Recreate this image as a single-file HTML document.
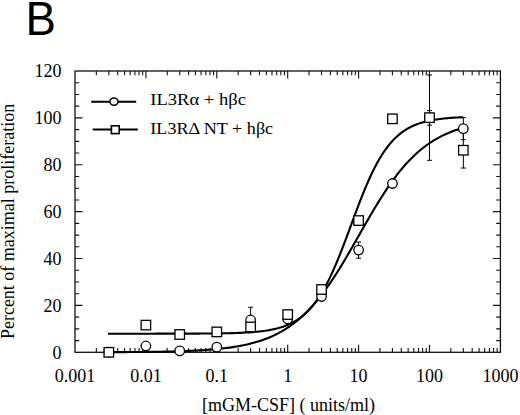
<!DOCTYPE html>
<html><head><meta charset="utf-8"><style>
html,body{margin:0;padding:0;background:#fff;}
body{width:520px;height:415px;overflow:hidden;position:relative;}
svg{position:absolute;left:0;top:0;}
text{font-family:"Liberation Serif",serif;font-size:18px;fill:#000;}
.lg{font-size:17.6px;}
.tt{font-size:18px;}
.B{font-family:"Liberation Sans",sans-serif;font-size:47.5px;}
</style></head><body>
<svg width="520" height="415" viewBox="0 0 520 415">
<text class="B" transform="translate(25.6,34.8) scale(0.96,1)">B</text>
<path d="M96.34 352.30v-4.2M96.34 71.00v4.2M108.83 352.30v-4.2M108.83 71.00v4.2M117.69 352.30v-4.2M117.69 71.00v4.2M124.56 352.30v-4.2M124.56 71.00v4.2M130.17 352.30v-4.2M130.17 71.00v4.2M134.92 352.30v-4.2M134.92 71.00v4.2M139.03 352.30v-4.2M139.03 71.00v4.2M142.66 352.30v-4.2M142.66 71.00v4.2M145.90 352.30v-7.5M145.90 71.00v7.5M167.24 352.30v-4.2M167.24 71.00v4.2M179.73 352.30v-4.2M179.73 71.00v4.2M188.59 352.30v-4.2M188.59 71.00v4.2M195.46 352.30v-4.2M195.46 71.00v4.2M201.07 352.30v-4.2M201.07 71.00v4.2M205.82 352.30v-4.2M205.82 71.00v4.2M209.93 352.30v-4.2M209.93 71.00v4.2M213.56 352.30v-4.2M213.56 71.00v4.2M216.80 352.30v-7.5M216.80 71.00v7.5M238.14 352.30v-4.2M238.14 71.00v4.2M250.63 352.30v-4.2M250.63 71.00v4.2M259.49 352.30v-4.2M259.49 71.00v4.2M266.36 352.30v-4.2M266.36 71.00v4.2M271.97 352.30v-4.2M271.97 71.00v4.2M276.72 352.30v-4.2M276.72 71.00v4.2M280.83 352.30v-4.2M280.83 71.00v4.2M284.46 352.30v-4.2M284.46 71.00v4.2M287.70 352.30v-7.5M287.70 71.00v7.5M309.04 352.30v-4.2M309.04 71.00v4.2M321.53 352.30v-4.2M321.53 71.00v4.2M330.39 352.30v-4.2M330.39 71.00v4.2M337.26 352.30v-4.2M337.26 71.00v4.2M342.87 352.30v-4.2M342.87 71.00v4.2M347.62 352.30v-4.2M347.62 71.00v4.2M351.73 352.30v-4.2M351.73 71.00v4.2M355.36 352.30v-4.2M355.36 71.00v4.2M358.60 352.30v-7.5M358.60 71.00v7.5M379.94 352.30v-4.2M379.94 71.00v4.2M392.43 352.30v-4.2M392.43 71.00v4.2M401.29 352.30v-4.2M401.29 71.00v4.2M408.16 352.30v-4.2M408.16 71.00v4.2M413.77 352.30v-4.2M413.77 71.00v4.2M418.52 352.30v-4.2M418.52 71.00v4.2M422.63 352.30v-4.2M422.63 71.00v4.2M426.26 352.30v-4.2M426.26 71.00v4.2M429.50 352.30v-7.5M429.50 71.00v7.5M450.84 352.30v-4.2M450.84 71.00v4.2M463.33 352.30v-4.2M463.33 71.00v4.2M472.19 352.30v-4.2M472.19 71.00v4.2M479.06 352.30v-4.2M479.06 71.00v4.2M484.67 352.30v-4.2M484.67 71.00v4.2M489.42 352.30v-4.2M489.42 71.00v4.2M493.53 352.30v-4.2M493.53 71.00v4.2M497.16 352.30v-4.2M497.16 71.00v4.2M75.00 340.58h4.2M500.40 340.58h-4.2M75.00 328.86h4.2M500.40 328.86h-4.2M75.00 317.14h4.2M500.40 317.14h-4.2M75.00 305.42h7.5M500.40 305.42h-7.5M75.00 293.70h4.2M500.40 293.70h-4.2M75.00 281.98h4.2M500.40 281.98h-4.2M75.00 270.25h4.2M500.40 270.25h-4.2M75.00 258.53h7.5M500.40 258.53h-7.5M75.00 246.81h4.2M500.40 246.81h-4.2M75.00 235.09h4.2M500.40 235.09h-4.2M75.00 223.37h4.2M500.40 223.37h-4.2M75.00 211.65h7.5M500.40 211.65h-7.5M75.00 199.93h4.2M500.40 199.93h-4.2M75.00 188.21h4.2M500.40 188.21h-4.2M75.00 176.49h4.2M500.40 176.49h-4.2M75.00 164.77h7.5M500.40 164.77h-7.5M75.00 153.05h4.2M500.40 153.05h-4.2M75.00 141.33h4.2M500.40 141.33h-4.2M75.00 129.60h4.2M500.40 129.60h-4.2M75.00 117.88h7.5M500.40 117.88h-7.5M75.00 106.16h4.2M500.40 106.16h-4.2M75.00 94.44h4.2M500.40 94.44h-4.2M75.00 82.72h4.2M500.40 82.72h-4.2" stroke="#111" stroke-width="1.1" fill="none"/>
<rect x="75.0" y="71.0" width="425.40" height="281.30" fill="none" stroke="#111" stroke-width="1.3"/>
<path d="M108.00,352.17 L109.78,352.17 L111.57,352.16 L113.35,352.15 L115.14,352.15 L116.92,352.14 L118.71,352.13 L120.49,352.12 L122.28,352.11 L124.07,352.10 L125.85,352.09 L127.64,352.07 L129.42,352.06 L131.21,352.05 L132.99,352.04 L134.78,352.02 L136.57,352.01 L138.35,351.99 L140.14,351.97 L141.92,351.95 L143.71,351.94 L145.49,351.92 L147.28,351.89 L149.06,351.87 L150.85,351.85 L152.64,351.82 L154.42,351.80 L156.21,351.77 L157.99,351.74 L159.78,351.71 L161.56,351.68 L163.35,351.64 L165.13,351.61 L166.92,351.57 L168.71,351.53 L170.49,351.49 L172.28,351.44 L174.06,351.39 L175.85,351.35 L177.63,351.29 L179.42,351.24 L181.20,351.18 L182.99,351.12 L184.78,351.05 L186.56,350.98 L188.35,350.91 L190.13,350.84 L191.92,350.76 L193.70,350.67 L195.49,350.58 L197.28,350.49 L199.06,350.39 L200.85,350.29 L202.63,350.18 L204.42,350.06 L206.20,349.94 L207.99,349.81 L209.77,349.68 L211.56,349.53 L213.35,349.38 L215.13,349.22 L216.92,349.06 L218.70,348.88 L220.49,348.70 L222.27,348.50 L224.06,348.30 L225.84,348.08 L227.63,347.85 L229.42,347.61 L231.20,347.36 L232.99,347.09 L234.77,346.81 L236.56,346.52 L238.34,346.21 L240.13,345.88 L241.91,345.54 L243.70,345.18 L245.49,344.80 L247.27,344.40 L249.06,343.98 L250.84,343.54 L252.63,343.07 L254.41,342.59 L256.20,342.08 L257.99,341.54 L259.77,340.98 L261.56,340.38 L263.34,339.76 L265.13,339.11 L266.91,338.43 L268.70,337.71 L270.48,336.96 L272.27,336.18 L274.06,335.35 L275.84,334.49 L277.63,333.59 L279.41,332.65 L281.20,331.66 L282.98,330.63 L284.77,329.55 L286.55,328.43 L288.34,327.25 L290.13,326.03 L291.91,324.75 L293.70,323.42 L295.48,322.04 L297.27,320.60 L299.05,319.10 L300.84,317.55 L302.62,315.93 L304.41,314.25 L306.20,312.51 L307.98,310.71 L309.77,308.85 L311.55,306.92 L313.34,304.93 L315.12,302.87 L316.91,300.74 L318.70,298.56 L320.48,296.31 L322.27,293.99 L324.05,291.61 L325.84,289.17 L327.62,286.67 L329.41,284.11 L331.19,281.49 L332.98,278.81 L334.77,276.08 L336.55,273.30 L338.34,270.47 L340.12,267.59 L341.91,264.68 L343.69,261.72 L345.48,258.72 L347.26,255.69 L349.05,252.64 L350.84,249.56 L352.62,246.45 L354.41,243.34 L356.19,240.21 L357.98,237.07 L359.76,233.93 L361.55,230.79 L363.33,227.66 L365.12,224.54 L366.91,221.43 L368.69,218.35 L370.48,215.28 L372.26,212.25 L374.05,209.24 L375.83,206.27 L377.62,203.34 L379.41,200.46 L381.19,197.61 L382.98,194.82 L384.76,192.08 L386.55,189.39 L388.33,186.75 L390.12,184.18 L391.90,181.66 L393.69,179.20 L395.48,176.81 L397.26,174.48 L399.05,172.21 L400.83,170.01 L402.62,167.87 L404.40,165.79 L406.19,163.79 L407.97,161.84 L409.76,159.96 L411.55,158.14 L413.33,156.39 L415.12,154.70 L416.90,153.06 L418.69,151.49 L420.47,149.98 L422.26,148.53 L424.04,147.13 L425.83,145.78 L427.62,144.49 L429.40,143.26 L431.19,142.07 L432.97,140.93 L434.76,139.85 L436.54,138.80 L438.33,137.80 L440.12,136.85 L441.90,135.94 L443.69,135.07 L445.47,134.23 L447.26,133.44 L449.04,132.68 L450.83,131.95 L452.61,131.26 L454.40,130.60 L456.19,129.98 L457.97,129.38 L459.76,128.81 L461.54,128.26 L463.33,127.75" stroke="#000" stroke-width="2.1" fill="none"/>
<path d="M108.00,333.69 L109.78,333.69 L111.57,333.69 L113.35,333.69 L115.14,333.69 L116.92,333.69 L118.71,333.69 L120.49,333.69 L122.28,333.68 L124.07,333.68 L125.85,333.68 L127.64,333.68 L129.42,333.68 L131.21,333.68 L132.99,333.68 L134.78,333.68 L136.57,333.68 L138.35,333.68 L140.14,333.68 L141.92,333.68 L143.71,333.68 L145.49,333.68 L147.28,333.68 L149.06,333.68 L150.85,333.68 L152.64,333.68 L154.42,333.68 L156.21,333.67 L157.99,333.67 L159.78,333.67 L161.56,333.67 L163.35,333.67 L165.13,333.67 L166.92,333.66 L168.71,333.66 L170.49,333.66 L172.28,333.66 L174.06,333.66 L175.85,333.65 L177.63,333.65 L179.42,333.65 L181.20,333.64 L182.99,333.64 L184.78,333.63 L186.56,333.63 L188.35,333.62 L190.13,333.62 L191.92,333.61 L193.70,333.60 L195.49,333.59 L197.28,333.59 L199.06,333.58 L200.85,333.57 L202.63,333.55 L204.42,333.54 L206.20,333.53 L207.99,333.51 L209.77,333.50 L211.56,333.48 L213.35,333.46 L215.13,333.44 L216.92,333.42 L218.70,333.39 L220.49,333.36 L222.27,333.33 L224.06,333.30 L225.84,333.27 L227.63,333.23 L229.42,333.18 L231.20,333.14 L232.99,333.09 L234.77,333.03 L236.56,332.97 L238.34,332.90 L240.13,332.83 L241.91,332.75 L243.70,332.66 L245.49,332.57 L247.27,332.47 L249.06,332.35 L250.84,332.23 L252.63,332.09 L254.41,331.95 L256.20,331.79 L257.99,331.61 L259.77,331.42 L261.56,331.21 L263.34,330.98 L265.13,330.74 L266.91,330.46 L268.70,330.17 L270.48,329.85 L272.27,329.50 L274.06,329.12 L275.84,328.70 L277.63,328.25 L279.41,327.75 L281.20,327.22 L282.98,326.64 L284.77,326.00 L286.55,325.31 L288.34,324.57 L290.13,323.76 L291.91,322.88 L293.70,321.93 L295.48,320.90 L297.27,319.78 L299.05,318.58 L300.84,317.28 L302.62,315.88 L304.41,314.36 L306.20,312.74 L307.98,310.99 L309.77,309.12 L311.55,307.11 L313.34,304.96 L315.12,302.67 L316.91,300.23 L318.70,297.63 L320.48,294.87 L322.27,291.95 L324.05,288.87 L325.84,285.62 L327.62,282.21 L329.41,278.63 L331.19,274.89 L332.98,271.00 L334.77,266.95 L336.55,262.77 L338.34,258.45 L340.12,254.01 L341.91,249.47 L343.69,244.84 L345.48,240.13 L347.26,235.36 L349.05,230.55 L350.84,225.72 L352.62,220.89 L354.41,216.07 L356.19,211.29 L357.98,206.56 L359.76,201.90 L361.55,197.33 L363.33,192.87 L365.12,188.52 L366.91,184.29 L368.69,180.21 L370.48,176.27 L372.26,172.49 L374.05,168.87 L375.83,165.41 L377.62,162.11 L379.41,158.98 L381.19,156.02 L382.98,153.21 L384.76,150.57 L386.55,148.09 L388.33,145.75 L390.12,143.57 L391.90,141.52 L393.69,139.61 L395.48,137.83 L397.26,136.17 L399.05,134.63 L400.83,133.20 L402.62,131.87 L404.40,130.64 L406.19,129.50 L407.97,128.45 L409.76,127.47 L411.55,126.57 L413.33,125.75 L415.12,124.98 L416.90,124.28 L418.69,123.63 L420.47,123.03 L422.26,122.48 L424.04,121.98 L425.83,121.52 L427.62,121.09 L429.40,120.70 L431.19,120.34 L432.97,120.01 L434.76,119.71 L436.54,119.43 L438.33,119.18 L440.12,118.94 L441.90,118.73 L443.69,118.53 L445.47,118.35 L447.26,118.19 L449.04,118.04 L450.83,117.90 L452.61,117.77 L454.40,117.66 L456.19,117.55 L457.97,117.46 L459.76,117.37 L461.54,117.29 L463.33,117.21" stroke="#000" stroke-width="2.1" fill="none"/>
<path d="M250.63 307.29V332.61M248.13 307.29h5M248.13 332.61h5M358.60 242.01V258.18M356.10 242.01h5M356.10 258.18h5M429.50 110.62V125.15M427.00 110.62h5M427.00 125.15h5M463.33 117.65V139.68M460.83 117.65h5M460.83 139.68h5M429.50 74.99V160.31M427.00 74.99h5M427.00 160.31h5M463.33 132.42V168.05M460.83 132.42h5M460.83 168.05h5" stroke="#000" stroke-width="1" fill="none"/>
<circle cx="108.83" cy="352.30" r="4.75" fill="#fff" stroke="#000" stroke-width="1.3"/>
<circle cx="145.90" cy="345.97" r="4.75" fill="#fff" stroke="#000" stroke-width="1.3"/>
<circle cx="179.73" cy="350.89" r="4.75" fill="#fff" stroke="#000" stroke-width="1.3"/>
<circle cx="216.80" cy="347.14" r="4.75" fill="#fff" stroke="#000" stroke-width="1.3"/>
<circle cx="250.63" cy="319.95" r="4.75" fill="#fff" stroke="#000" stroke-width="1.3"/>
<circle cx="287.70" cy="319.01" r="4.75" fill="#fff" stroke="#000" stroke-width="1.3"/>
<circle cx="321.53" cy="296.51" r="4.75" fill="#fff" stroke="#000" stroke-width="1.3"/>
<circle cx="358.60" cy="250.09" r="4.75" fill="#fff" stroke="#000" stroke-width="1.3"/>
<circle cx="392.43" cy="183.52" r="4.75" fill="#fff" stroke="#000" stroke-width="1.3"/>
<circle cx="429.50" cy="117.88" r="4.75" fill="#fff" stroke="#000" stroke-width="1.3"/>
<circle cx="463.33" cy="128.67" r="4.75" fill="#fff" stroke="#000" stroke-width="1.3"/>
<rect x="104.08" y="347.55" width="9.5" height="9.5" fill="#fff" stroke="#000" stroke-width="1.3"/>
<rect x="141.15" y="320.36" width="9.5" height="9.5" fill="#fff" stroke="#000" stroke-width="1.3"/>
<rect x="174.98" y="329.73" width="9.5" height="9.5" fill="#fff" stroke="#000" stroke-width="1.3"/>
<rect x="212.05" y="327.16" width="9.5" height="9.5" fill="#fff" stroke="#000" stroke-width="1.3"/>
<rect x="245.88" y="322.23" width="9.5" height="9.5" fill="#fff" stroke="#000" stroke-width="1.3"/>
<rect x="282.95" y="309.81" width="9.5" height="9.5" fill="#fff" stroke="#000" stroke-width="1.3"/>
<rect x="316.78" y="284.73" width="9.5" height="9.5" fill="#fff" stroke="#000" stroke-width="1.3"/>
<rect x="353.85" y="215.81" width="9.5" height="9.5" fill="#fff" stroke="#000" stroke-width="1.3"/>
<rect x="387.68" y="114.07" width="9.5" height="9.5" fill="#fff" stroke="#000" stroke-width="1.3"/>
<rect x="424.75" y="112.90" width="9.5" height="9.5" fill="#fff" stroke="#000" stroke-width="1.3"/>
<rect x="458.58" y="145.48" width="9.5" height="9.5" fill="#fff" stroke="#000" stroke-width="1.3"/>
<path d="M91.2 101.8H136.2M92.7 129.5H137.8" stroke="#000" stroke-width="2.1"/>
<ellipse cx="114" cy="101.6" rx="4.1" ry="3.7" fill="#fff" stroke="#000" stroke-width="1.5"/>
<rect x="111.4" y="125.8" width="7.8" height="7.8" fill="#fff" stroke="#000" stroke-width="1.6"/>
<text x="75.00" y="381.5" text-anchor="middle">0.001</text><text x="145.90" y="381.5" text-anchor="middle">0.01</text><text x="216.80" y="381.5" text-anchor="middle">0.1</text><text x="287.70" y="381.5" text-anchor="middle">1</text><text x="358.60" y="381.5" text-anchor="middle">10</text><text x="429.50" y="381.5" text-anchor="middle">100</text><text x="500.40" y="381.5" text-anchor="middle">1000</text><text x="61.5" y="358.60" text-anchor="end">0</text><text x="61.5" y="311.72" text-anchor="end">20</text><text x="61.5" y="264.83" text-anchor="end">40</text><text x="61.5" y="217.95" text-anchor="end">60</text><text x="61.5" y="171.07" text-anchor="end">80</text><text x="61.5" y="124.18" text-anchor="end">100</text><text x="61.5" y="77.30" text-anchor="end">120</text><text class="lg" transform="translate(150.3,105.1) scale(1.055,1)">IL3R&#945; + h&#946;c</text><text class="lg" transform="translate(150.3,134.1) scale(1.03,1)">IL3R&#916; NT + h&#946;c</text><text class="tt" x="288.6" y="411" text-anchor="middle">[mGM-CSF] ( units/ml)</text><text class="tt" transform="translate(13.8,221.4) rotate(-90)" text-anchor="middle">Percent of maximal proliferation</text>
</svg>
</body></html>
